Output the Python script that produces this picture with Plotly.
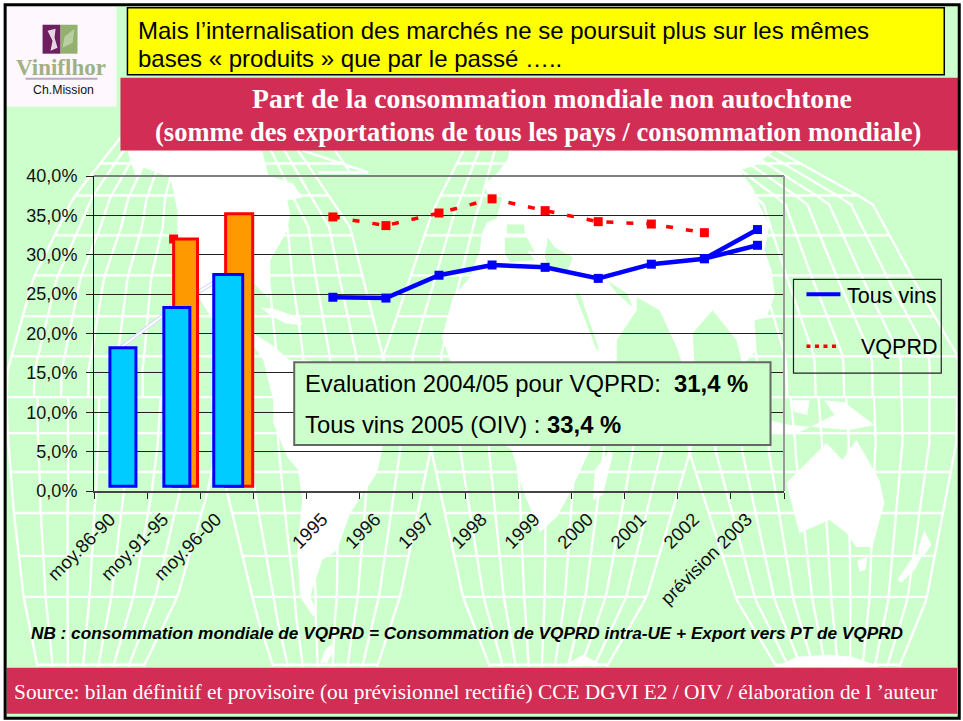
import numpy as np
import plotly.graph_objects as go

# ---------- data ----------
categories = ["moy.86-90", "moy.91-95", "moy.96-00", " ", "1995", "1996", "1997", "1998",
              "1999", "2000", "2001", "2002", "prévision 2003"]
avg_periods = ["moy.86-90", "moy.91-95", "moy.96-00"]
tous_vins_avg = [18.2, 23.3, 27.5]
vqprd_periods = ["moy.91-95", "moy.96-00"]
vqprd_avg = [32.0, 35.2]
marker_period = ["moy.91-95"]
marker_value = [32.0]
years = ["1995", "1996", "1997", "1998", "1999", "2000", "2001", "2002", "prévision 2003"]
tous_vins = [24.6, 24.5, 27.4, 28.7, 28.4, 27.0, 28.8, 29.5, 33.2]
years_vqprd = ["1995", "1996", "1997", "1998", "1999", "2000", "2001", "2002"]
vqprd = [34.8, 33.7, 35.3, 37.1, 35.6, 34.2, 33.9, 32.8]
branch_years = ["2002", "prévision 2003"]
branch_values = [29.5, 31.2]
y_ticks = [0, 5, 10, 15, 20, 25, 30, 35, 40]
y_labels = ["0,0%", "5,0%", "10,0%", "15,0%", "20,0%", "25,0%", "30,0%", "35,0%", "40,0%"]

# ---------- layout geometry ----------
W, H = 963, 721
L, R, T, B = 93.5, 963 - 784.5, 175.5, 721 - 491
GREEN, CRIMSON = "#CCFFCC", "#D22E55"
SANS, SERIF = "Liberation Sans, Arial", "Liberation Serif, Times New Roman"


def px(x):
    return (x - L) / (W - L - R)


def py(y):
    return 1 - (y - T) / (H - T - B)


def path(points, close=True):
    s = "M" + " L".join(f"{px(x):.4f},{py(y):.4f}" for x, y in points)
    return s + (" Z" if close else "")


shapes = []


def rect(x0, y0, x1, y1, fill, line=None, width=0, layer="below"):
    shapes.append(dict(type="rect", xref="paper", yref="paper", x0=px(x0), x1=px(x1), y0=py(y0), y1=py(y1),
                       fillcolor=fill, line=dict(color=line or fill, width=width), layer=layer))


def poly(points, fill="white"):
    shapes.append(dict(type="path", xref="paper", yref="paper", path=path(points), fillcolor=fill,
                       line=dict(width=0), layer="below"))


# ---------- background map ----------
rect(5, 5, 959, 718, GREEN)

lobes = [
    dict(left=[(137, 120), (197, 73), (277, 33), (370, 7), (397, 6)],
         right=[(137, 288), (153, 300), (227, 350), (357, 383), (397, 388)], n=14,
         par=[163, 195, 235, 275, 316, 356, 397]),
    dict(left=[(143, 467), (210, 433), (357, 383), (397, 388)],
         right=[(143, 765), (203, 873), (277, 913), (357, 959), (397, 959)], n=20,
         par=[163, 195, 235, 275, 316, 356, 397]),
    dict(left=[(397, 6), (433, 7), (510, 13), (597, 23), (667, 37)],
         right=[(397, 222), (445, 217), (493, 207), (597, 177), (667, 143)], n=7,
         par=[433, 472, 513, 556, 597, 665]),
    dict(left=[(397, 212), (445, 217), (493, 227), (617, 257), (667, 273)],
         right=[(397, 438), (453, 430), (597, 400), (667, 377)], n=7,
         par=[433, 472, 513, 556, 597, 665]),
    dict(left=[(397, 425), (453, 432), (597, 463), (667, 490)],
         right=[(397, 700), (453, 690), (597, 647), (667, 607)], n=9,
         par=[433, 472, 513, 556, 597, 665]),
    dict(left=[(397, 680), (453, 690), (600, 737), (667, 777)],
         right=[(397, 958), (443, 957), (600, 927), (667, 900)], n=10,
         par=[433, 472, 513, 556, 597, 665]),
]
grid_paths = []
for lobe in lobes:
    ly, lx = zip(*lobe["left"])
    ry, rx = zip(*lobe["right"])
    ys = np.linspace(ly[0], ly[-1], 30)
    xl, xr = np.interp(ys, ly, lx), np.interp(ys, ry, rx)
    for k in range(lobe["n"] + 1):
        grid_paths.append(path(list(zip(xl + (xr - xl) * k / lobe["n"], ys)), close=False))
    for yy in lobe["par"]:
        grid_paths.append(path([(np.interp(yy, ly, lx), yy), (np.interp(yy, ry, rx), yy)], close=False))
# Greenland tab
grid_paths.append(path([(303, 150), (368, 172), (318, 172)], close=False))
grid_paths.append(path([(335, 150), (350, 172)], close=False))
grid_paths.append(path([(300, 163), (342, 163)], close=False))
shapes.append(dict(type="path", xref="paper", yref="paper", path=" ".join(grid_paths),
                   fillcolor="rgba(0,0,0,0)", line=dict(color="white", width=2.4), layer="below"))

# land masses
poly([(127, 150), (135, 176), (143, 167), (170, 177), (177, 210), (177, 233), (200, 300), (217, 327), (253, 345),
      (263, 360), (293, 363), (272, 345), (253, 333), (250, 300), (253, 282), (268, 298), (270, 280), (270, 260),
      (287, 230), (290, 213), (287, 200), (302, 197), (293, 183), (268, 175), (262, 150)])
poly([(260, 307), (275, 309), (300, 318), (302, 325), (285, 323), (270, 315)])
poly([(263, 360), (273, 400), (273, 423), (287, 457), (298, 470), (302, 500), (297, 550), (300, 597), (313, 617),
      (317, 612), (310, 597), (322, 560), (337, 550), (350, 513), (377, 473), (382, 450), (390, 400), (350, 375),
      (310, 360)])
poly([(320, 663), (325, 650), (333, 643), (334, 650), (327, 663)])
# Eurasia and Africa
poly([(513, 150), (507, 160), (497, 173), (485, 183), (487, 193), (503, 193), (500, 217), (487, 222), (482, 233),
      (480, 250), (470, 277), (453, 297), (442, 337), (450, 360), (470, 420), (512, 450), (523, 490), (540, 532),
      (557, 517), (570, 493), (590, 450), (600, 400), (640, 370), (680, 365), (745, 363), (757, 350), (755, 320),
      (767, 317), (775, 295), (772, 270), (765, 250), (770, 225), (760, 205), (753, 187), (740, 170), (755, 165),
      (775, 150)])
# seas inside the land
poly([(507, 224), (524, 224), (525, 233), (507, 233)], GREEN)
poly([(505, 237), (527, 237), (535, 252), (527, 250), (535, 260), (510, 262), (505, 253)], GREEN)
poly([(548, 237), (555, 247), (573, 257), (567, 273), (548, 267), (545, 257)], GREEN)
poly([(575, 293), (580, 293), (599, 348), (597, 350)], GREEN)
poly([(607, 280), (617, 293), (633, 307), (627, 293)], GREEN)
poly([(637, 297), (660, 310), (677, 347), (683, 365), (617, 365), (617, 340), (637, 310)], GREEN)
poly([(713, 310), (737, 340), (743, 365), (695, 365), (693, 333)], GREEN)
# islands
poly([(593, 500), (595, 470), (610, 450), (613, 455), (603, 495)])
poly([(787, 483), (800, 470), (827, 443), (843, 460), (857, 440), (880, 480), (885, 503), (873, 547), (857, 547),
      (847, 533), (830, 520), (800, 533), (793, 507)])
poly([(858, 560), (868, 557), (866, 570), (860, 572)])
poly([(898, 580), (915, 555), (925, 552), (915, 570), (902, 583)])
poly([(918, 552), (925, 530), (932, 545), (925, 555)])
poly([(770, 420), (790, 425), (850, 430), (875, 425), (845, 402), (825, 400), (835, 415), (800, 432), (770, 432)])
poly([(792, 400), (810, 400), (808, 415), (795, 412)])
poly([(777, 667), (797, 657), (830, 655), (853, 657), (880, 667)])
poly([(567, 664), (583, 655), (600, 664)])

# ---------- banners, logo, frame ----------
rect(127, 7, 945, 74, "#FFFF00", "black", 1.5)
rect(120, 77, 960, 150, CRIMSON)
rect(6, 668, 958, 714, CRIMSON)
rect(6, 6, 116, 106, "#FEF8FE")
rect(42, 24, 60, 53, "#6E1F5F")
rect(60, 24, 77, 53, "#93B06E")
poly([(47, 30), (55, 28), (54, 37), (57, 47), (50, 50), (52, 40)], "#E8D5E4")
poly([(62, 47), (64, 36), (74, 28), (72, 42)], "#B9CFA2")
rect(25, 77, 97, 79, "#B7A9C0")

# chart frame parts and text-box and legend
for ref0, ref1, col, wid in [((93.5, 175.5), (784.5, 175.5), "#808080", 2), ((784.5, 175.5), (784.5, 491), "#999999", 2)]:
    shapes.append(dict(type="line", xref="paper", yref="paper", x0=px(ref0[0]), y0=py(ref0[1]),
                       x1=px(ref1[0]), y1=py(ref1[1]), line=dict(color=col, width=wid), layer="above"))
rect(294, 362, 771, 445, GREEN, "#666666", 2, layer="above")
rect(794, 279, 942, 373, "rgba(0,0,0,0)", "#222222", 1.2, layer="above")
shapes.append(dict(type="line", xref="paper", yref="paper", x0=px(807), x1=px(841), y0=py(294), y1=py(294),
                   line=dict(color="#0000FF", width=4), layer="above"))
shapes.append(dict(type="line", xref="paper", yref="paper", x0=px(807), x1=px(841), y0=py(346), y1=py(346),
                   line=dict(color="#FF0000", width=3.5, dash="4px,4.5px"), layer="above"))
# outer frame
shapes.append(dict(type="rect", xref="paper", yref="paper", x0=px(4.5), x1=px(960), y0=py(4), y1=py(718.5),
                   line=dict(color="black", width=3), fillcolor="rgba(0,0,0,0)", layer="above"))

# ---------- traces ----------
fig = go.Figure()
BASE = 0.6  # bars float slightly above the axis
fig.add_trace(go.Scatter(x=avg_periods, y=tous_vins_avg, mode="lines", line=dict(color="#D8D8FF", width=4),
                         showlegend=False, hoverinfo="skip"))
fig.add_trace(go.Scatter(x=avg_periods, y=tous_vins_avg, mode="lines", line=dict(color="white", width=2),
                         showlegend=False, hoverinfo="skip"))
fig.add_trace(go.Scatter(x=marker_period, y=marker_value, mode="markers",
                         marker=dict(symbol="square", size=9, color="#FF0000"), showlegend=False, hoverinfo="skip"))
fig.add_trace(go.Bar(x=vqprd_periods, y=[v - BASE for v in vqprd_avg], base=BASE, xaxis="x2", yaxis="y2",
                     width=[0.45, 0.51], offset=[0.0, -0.02],
                     marker=dict(color="#FF9900", line=dict(color="#FF0000", width=3)), showlegend=False))
fig.add_trace(go.Bar(x=avg_periods, y=[v - BASE for v in tous_vins_avg], base=BASE, xaxis="x2", yaxis="y2",
                     width=[0.49, 0.49, 0.545], offset=[-0.2, -0.184, -0.244],
                     marker=dict(color="#00CCFF", line=dict(color="#0000FF", width=3)), showlegend=False))
fig.add_trace(go.Scatter(x=years_vqprd, y=vqprd, mode="lines+markers", name="VQPRD", showlegend=False,
                         line=dict(color="#FF0000", width=3.5, dash="7px,13px"),
                         marker=dict(symbol="square", size=9, color="#FF0000")))
fig.add_trace(go.Scatter(x=branch_years, y=branch_values, mode="lines+markers", showlegend=False,
                         line=dict(color="#0000FF", width=4.5),
                         marker=dict(symbol="square", size=9, color="#0000FF")))
fig.add_trace(go.Scatter(x=years, y=tous_vins, mode="lines+markers", name="Tous vins", showlegend=False,
                         line=dict(color="#0000FF", width=4.5),
                         marker=dict(symbol="square", size=9, color="#0000FF")))
# empty trace that keeps the tick-label axis alive
fig.add_trace(go.Scatter(x=[None], y=[None], xaxis="x3", yaxis="y", mode="markers", showlegend=False,
                         hoverinfo="skip"))


# ---------- text ----------
def note(x, y, text, size, color="black", family=SANS, anchor="left", **kw):
    dx = {"left": -2, "right": 2, "center": 0}[anchor]
    return dict(xref="paper", yref="paper", x=px(x + dx), y=py(y), text=text, showarrow=False, xanchor=anchor,
                yanchor="middle", font=dict(size=size, color=color, family=family), **kw)


annotations = [
    note(138, 30, "Mais l’internalisation des marchés ne se poursuit plus sur les mêmes", 24),
    note(138, 58, "bases « produits » que par le passé …..", 24),
    note(552, 98, "<b>Part de la consommation mondiale non autochtone</b>", 27.7, "white", SERIF, "center"),
    note(538, 131, "<b>(somme des exportations de tous les pays / consommation mondiale)</b>", 26.5, "white", SERIF, "center"),
    note(60, 67, "<b>Viniflhor</b>", 23, "#A0B184", SERIF, "center"),
    note(63, 89, "Ch.Mission", 12.3, "#111111", SANS, "center"),
    note(305, 383, "Evaluation 2004/05 pour VQPRD:  <b>31,4 %</b>", 23.8),
    note(305, 424, "Tous vins 2005 (OIV) : <b>33,4 %</b>", 23.8),
    note(938, 296, "Tous vins", 21.5, anchor="right"),
    note(938, 347, "VQPRD", 21.5, anchor="right"),
    note(30, 633, "<b><i>NB : consommation mondiale de VQPRD = Consommation de VQPRD intra-UE + Export vers PT de VQPRD</i></b>", 17.2),
    note(13, 692, "Source: bilan définitif et provisoire (ou prévisionnel rectifié) CCE DGVI E2 / OIV / élaboration de l ’auteur", 21.4, "white", SERIF),
]

axis_range = [-0.5, 12.5]
fig.update_layout(
    width=W, height=H, autosize=False, margin=dict(l=L, r=R, t=T, b=B, pad=0),
    paper_bgcolor="white", plot_bgcolor="rgba(0,0,0,0)",
    barmode="overlay", showlegend=False, shapes=shapes, annotations=annotations,
    font=dict(family=SANS, color="black"),
    xaxis=dict(type="category", categoryorder="array", categoryarray=categories, tickmode="array",
               tickvals=categories, ticktext=categories, range=axis_range, tickson="boundaries",
               ticks="outside", ticklen=6, tickcolor="#222222", linecolor="#444444", linewidth=1.5,
               showline=True, showgrid=False, showticklabels=False, fixedrange=True, zeroline=False),
    yaxis=dict(range=[0, 40], tickmode="array", tickvals=y_ticks, ticktext=y_labels, ticks="outside", ticklen=7,
               tickcolor="#222222", showline=True, linecolor="#111111", linewidth=1, showgrid=True,
               gridcolor="#222222", gridwidth=1, tickfont=dict(size=18, family=SANS, color="#111111"),
               ticklabelstandoff=5, fixedrange=True, zeroline=False),
    xaxis2=dict(type="category", categoryorder="array", categoryarray=categories, range=axis_range,
                overlaying="x", visible=False, fixedrange=True),
    yaxis2=dict(range=[0, 40], overlaying="y", visible=False, fixedrange=True),
    xaxis3=dict(type="linear", range=[-0.3, 12.7], overlaying="x", anchor="y", side="bottom", tickmode="array",
                tickvals=list(range(len(categories))), ticktext=categories, ticks="", showgrid=False, showline=False,
                zeroline=False, tickangle=-45, tickfont=dict(size=18.5, family=SANS, color="#111111"),
                ticklabelstandoff=13, fixedrange=True),
)

fig.write_html("out.html", config=dict(displayModeBar=False),
               post_script="document.body.style.margin='0';document.body.style.overflow='hidden';")
